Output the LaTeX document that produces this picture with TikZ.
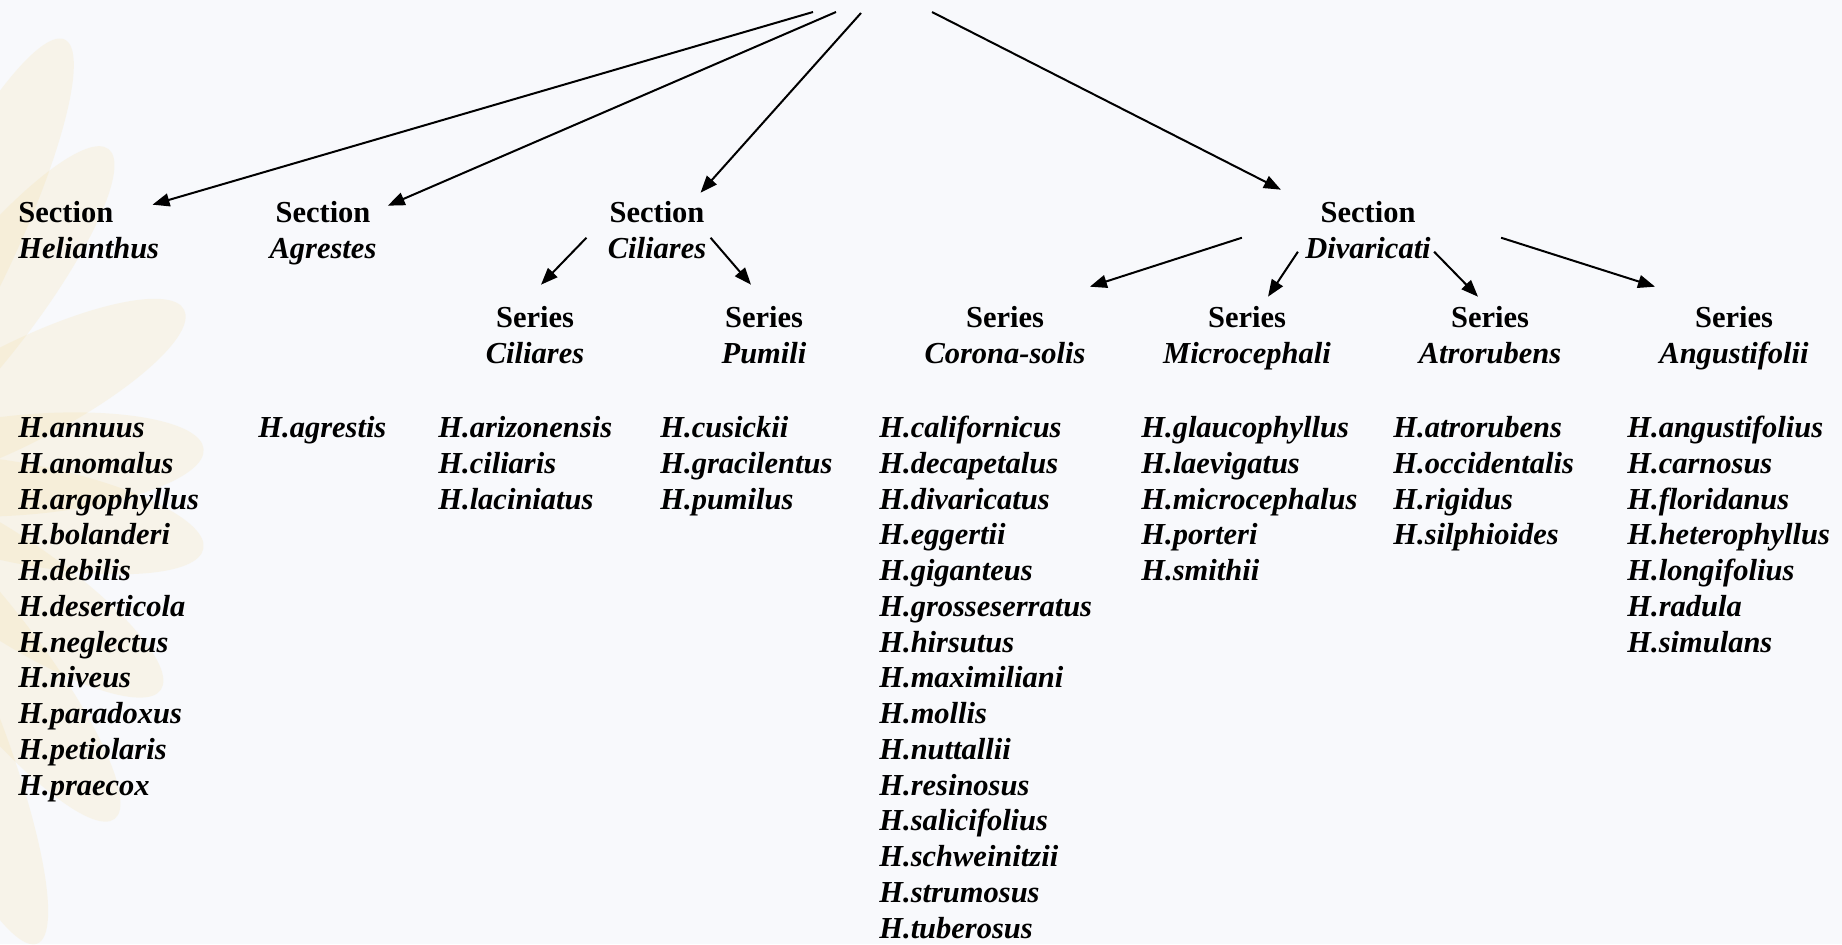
\documentclass[tikz,border=0pt]{standalone}
\usepackage{fontspec}
\setmainfont{Liberation Serif}
\usetikzlibrary{arrows.meta, positioning, calc}
\definecolor{paperwhite}{HTML}{F8F9FC}
\definecolor{petalgold}{HTML}{F3D27C}
\definecolor{inkblack}{HTML}{000000}
\tikzset{
  rank/.style={font=\fontsize{15.25}{17.875}\selectfont\bfseries, inner sep=0pt},
  species/.style={font=\fontsize{15.25}{17.875}\selectfont\bfseries\itshape, inner sep=0pt, align=left, anchor=base west},
  link/.style={draw=inkblack, line width=1pt, -{Triangle[length=8.5pt,width=6.5pt]}},
  petal/.style={fill=petalgold, fill opacity=0.14}
}

\begin{document}
\begin{tikzpicture}[x=0.5pt, y=-0.5pt]
  % Background
  \useasboundingbox (0,0) rectangle (1842,944);
  \fill[paperwhite] (0,0) rectangle (1842,944);

  % Faded sunflower petals on the left edge
  \begin{scope}
    \clip (0,0) rectangle (1842,944);
    \foreach \ang/\len in {64/490, 52/420, 27/375, 5/355, -11/360, -34/375, -52/430, -68/500} {
      \begin{scope}[shift={(-150,480)}, rotate=\ang]
        \fill[petal] (\len/2,0) ellipse [x radius=\len/2, y radius=50];
      \end{scope}
    }
  \end{scope}

  % Root (above the picture)
  \coordinate (rootA) at (813,12);
  \coordinate (rootB) at (836,12);
  \coordinate (rootC) at (861,13);
  \coordinate (rootD) at (932,12);

  % Sections (base = last line)
  \node[rank, align=left, anchor=base west] (secHel) at (18,258) {Section\\\textit{Helianthus}};
  \node[rank, align=center, anchor=base] (secAgr) at (323,258) {Section\\\textit{Agrestes}};
  \node[rank, align=center, anchor=base] (secCil) at (657,258) {Section\\\textit{Ciliares}};
  \node[rank, align=center, anchor=base] (secDiv) at (1368,258) {Section\\\textit{Divaricati}};

  % Series
  \node[rank, align=center, anchor=base] (serCil) at (535,363) {Series\\\textit{Ciliares}};
  \node[rank, align=center, anchor=base] (serPum) at (764,363) {Series\\\textit{Pumili}};
  \node[rank, align=center, anchor=base] (serCor) at (1005,363) {Series\\\textit{Corona-solis}};
  \node[rank, align=center, anchor=base] (serMic) at (1247,363) {Series\\\textit{Microcephali}};
  \node[rank, align=center, anchor=base] (serAtr) at (1490,363) {Series\\\textit{Atrorubens}};
  \node[rank, align=center, anchor=base] (serAng) at (1734,363) {Series\\\textit{Angustifolii}};

  % Species lists (base = last line, first line at 437.5)
  \node[species] (spHel) at (18,795) {H.annuus\\H.anomalus\\H.argophyllus\\H.bolanderi\\H.debilis\\H.deserticola\\H.neglectus\\H.niveus\\H.paradoxus\\H.petiolaris\\H.praecox};
  \node[species] (spAgr) at (258,437.5) {H.agrestis};
  \node[species] (spCil) at (438,509) {H.arizonensis\\H.ciliaris\\H.laciniatus};
  \node[species] (spPum) at (660,509) {H.cusickii\\H.gracilentus\\H.pumilus};
  \node[species] (spCor) at (879,938) {H.californicus\\H.decapetalus\\H.divaricatus\\H.eggertii\\H.giganteus\\H.grosseserratus\\H.hirsutus\\H.maximiliani\\H.mollis\\H.nuttallii\\H.resinosus\\H.salicifolius\\H.schweinitzii\\H.strumosus\\H.tuberosus};
  \node[species] (spMic) at (1141,580.5) {H.glaucophyllus\\H.laevigatus\\H.microcephalus\\H.porteri\\H.smithii};
  \node[species] (spAtr) at (1393,544.75) {H.atrorubens\\H.occidentalis\\H.rigidus\\H.silphioides};
  \node[species] (spAng) at (1627,652) {H.angustifolius\\H.carnosus\\H.floridanus\\H.heterophyllus\\H.longifolius\\H.radula\\H.simulans};

  % Root to sections
  \draw[link] (rootA) -- ($(secHel.north east)+(-7,4)$);
  \draw[link] (rootB) -- ($(secAgr.north east)+(11,5)$);
  \draw[link] (rootC) -- ($(secCil.north east)+(-6,-8)$);
  \draw[link] (rootD) -- ($(secDiv.north west)+(-24,-11)$);

  % Sections to series
  \draw[link] ($(secCil.west)+(-21,8)$) -- ($(serCil.north)+(6,-21)$);
  \draw[link] ($(secCil.east)+(4,8)$) -- ($(serPum.north)+(-13,-21)$);
  \draw[link] ($(secDiv.west)+(-63,8)$) -- ($(serCor.north east)+(4,-19)$);
  \draw[link] ($(secDiv.west)+(-7,22)$) -- ($(serMic.north)+(21,-9)$);
  \draw[link] ($(secDiv.east)+(3,22)$) -- ($(serAtr.north)+(-12,-9)$);
  \draw[link] ($(secDiv.east)+(70,8)$) -- ($(serAng.north west)+(-4,-19)$);
\end{tikzpicture}
\end{document}
